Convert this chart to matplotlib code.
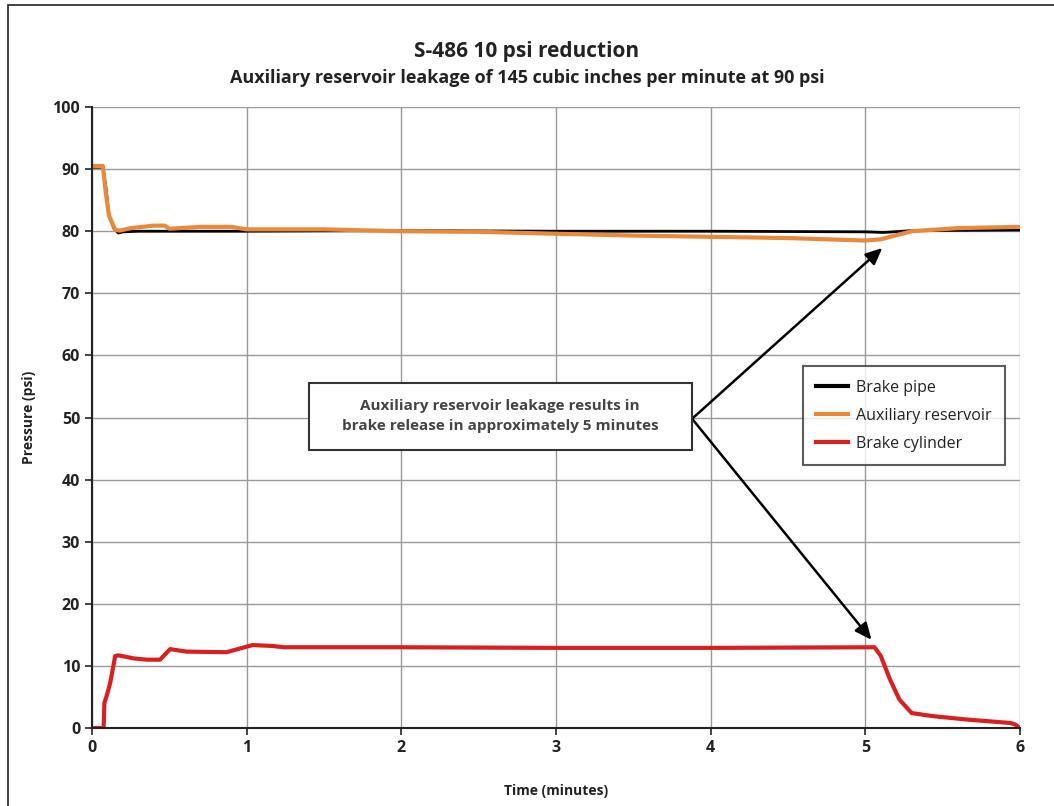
import matplotlib.pyplot as plt
import matplotlib.patches as mpatches
from matplotlib.lines import Line2D

plt.rcParams['font.family'] = ['Open Sans', 'DejaVu Sans']

# brake pipe
bp_t = [0, 0.07, 0.09, 0.11, 0.14, 0.17, 0.2, 0.3, 1.0, 2.0, 3.0, 4.0, 5.0, 5.12, 5.3, 6.0]
bp_p = [90.3, 90.3, 87, 82.5, 80.5, 79.7, 79.9, 80.0, 80.0, 80.1, 80.0, 80.0, 79.9, 79.8, 80.1, 80.2]

# auxiliary reservoir
ar_t = [0, 0.07, 0.09, 0.11, 0.15, 0.18, 0.25, 0.4, 0.47, 0.5, 0.7, 0.9, 1.0, 1.5, 2.0, 2.5,
        3.0, 3.5, 4.0, 4.5, 5.0, 5.1, 5.3, 5.6, 6.0]
ar_p = [90.5, 90.5, 86, 82.5, 80.2, 80.1, 80.5, 80.9, 80.9, 80.4, 80.7, 80.7, 80.3, 80.3, 80.0, 79.9,
        79.6, 79.3, 79.1, 78.9, 78.5, 78.7, 80.0, 80.5, 80.7]

# brake cylinder
bc_t = [0, 0.075, 0.08, 0.101, 0.118, 0.15, 0.17, 0.27, 0.355, 0.44, 0.505, 0.61, 0.87, 1.0, 1.04,
        1.17, 1.24, 2.0, 3.0, 4.0, 5.06, 5.10, 5.16, 5.22, 5.30, 5.44, 5.66, 5.94, 5.97, 6.0]
bc_p = [0, 0, 4.0, 5.7, 7.3, 11.6, 11.7, 11.2, 11.0, 11.0, 12.7, 12.3, 12.2, 13.1, 13.35,
        13.2, 13.0, 13.0, 12.9, 12.9, 13.0, 11.6, 7.8, 4.6, 2.4, 1.9, 1.35, 0.8, 0.55, 0]

note_text = 'Auxiliary reservoir leakage results in\nbrake release in approximately 5 minutes'

fig = plt.figure(figsize=(10.54, 8.06), dpi=100)
ax = fig.add_axes([0.0873, 0.0968, 0.8804, 0.7704])

# outer frame
fig.add_artist(mpatches.Rectangle((8 / 1054, -0.01), 1.02, 1 - 5 / 806 + 0.01, transform=fig.transFigure,
                                  fill=False, edgecolor='#222222', linewidth=1.2))

ax.plot(bp_t, bp_p, color='black', linewidth=2, label='Brake pipe')
ax.plot(ar_t, ar_p, color='#e8893c', linewidth=3, label='Auxiliary reservoir')
ax.plot(bc_t, bc_p, color='#d92020', linewidth=3, label='Brake cylinder')

ax.set_xlim(0, 6)
ax.set_ylim(0, 100)
ax.set_xticks(range(0, 7))
ax.set_yticks(range(0, 101, 10))
ax.grid(True, color='#9a9a9a', linewidth=1)
ax.set_axisbelow(True)
for s in ['top', 'right']:
    ax.spines[s].set_visible(False)
for s in ['left', 'bottom']:
    ax.spines[s].set_linewidth(1.5)
    ax.spines[s].set_color('#222222')
ax.tick_params(axis='both', length=5, width=1.2, labelsize=11.5, colors='#222222')
for lab in ax.get_xticklabels() + ax.get_yticklabels():
    lab.set_fontweight('bold')

ax.set_xlabel('Time (minutes)', fontsize=10, fontweight='bold', labelpad=20, color='#222222')
ax.set_ylabel('Pressure (psi)', fontsize=10, fontweight='bold', labelpad=12, color='#222222')

fig.text(0.5, 1 - 51 / 806, 'S-486 10 psi reduction', ha='center', va='center',
         fontsize=15, fontweight='bold', color='#222222')
fig.text(0.5, 1 - 78 / 806, 'Auxiliary reservoir leakage of 145 cubic inches per minute at 90 psi',
         ha='center', va='center', fontsize=13, fontweight='bold', color='#222222')

# annotation box and arrows
ax.add_patch(mpatches.Rectangle((1.40, 44.8), 2.48, 10.8, facecolor='white', edgecolor='#333333',
                                linewidth=1.5, zorder=4))
ax.text(2.64, 50.2, note_text, ha='center', va='center', fontsize=11, fontweight='bold',
        color='#444444', linespacing=1.55, zorder=5)
for tip in [(5.11, 77.3), (5.04, 14.2)]:
    ax.annotate('', xy=tip, xytext=(3.88, 49.8),
                arrowprops=dict(arrowstyle='-|>,head_length=1.0,head_width=0.45', color='black',
                                linewidth=1.8, shrinkA=0, shrinkB=0))

handles = [Line2D([0], [0], color='black', linewidth=3),
           Line2D([0], [0], color='#e8893c', linewidth=3),
           Line2D([0], [0], color='#d92020', linewidth=3)]
leg = ax.legend(handles, ['Brake pipe', 'Auxiliary reservoir', 'Brake cylinder'],
                loc='upper left', bbox_to_anchor=(0.766, 0.583), fontsize=11.5, frameon=True,
                fancybox=False, edgecolor='#333333', handlelength=2.0, labelspacing=0.75,
                borderpad=0.85, handletextpad=0.45, borderaxespad=0)
leg.get_frame().set_linewidth(1.5)
for t in leg.get_texts():
    t.set_color('#222222')

fig.savefig('out.png', dpi=100)
